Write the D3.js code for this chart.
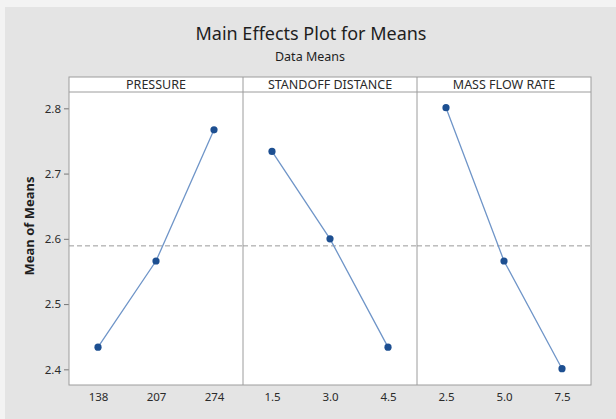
<!DOCTYPE html>
<html>
<head>
<meta charset="utf-8">
<script src="https://cdn.jsdelivr.net/npm/d3@7"></script>
<style>
  html, body { margin: 0; padding: 0; background: #f3f3f3; }
  svg { display: block; font-family: "Noto Sans", "Open Sans", sans-serif; }
</style>
</head>
<body>
<svg id="chart" width="616" height="419"></svg>
<script>
// Factor names and their levels
const factors = ["PRESSURE", "STANDOFF DISTANCE", "MASS FLOW RATE"];
const pressureLevels = ["138", "207", "274"];
const standoffLevels = ["1.5", "3.0", "4.5"];
const massFlowLevels = ["2.5", "5.0", "7.5"];

// Mean of means at each level
const pressureMeans = [2.434, 2.566, 2.767];
const standoffMeans = [2.734, 2.600, 2.434];
const massFlowMeans = [2.801, 2.566, 2.401];

// Y axis ticks
const yTicks = [2.4, 2.5, 2.6, 2.7, 2.8];

const levels = [pressureLevels, standoffLevels, massFlowLevels];
const means = [pressureMeans, standoffMeans, massFlowMeans];
const grandMean = d3.mean(means.flat());

const svg = d3.select("#chart");
const W = 616, H = 419;

const left = 69, right = 591;
const headerTop = 77, headerBottom = 92, plotBottom = 385;
const panelW = (right - left) / factors.length;

// Figure background
svg.append("rect").attr("x", 5).attr("y", 7).attr("width", W - 5).attr("height", H - 7)
  .attr("fill", "#e4e4e4");

// Titles
svg.append("text").attr("x", 311).attr("y", 40).attr("text-anchor", "middle")
  .attr("font-size", 18).attr("fill", "#1e1e1e").text("Main Effects Plot for Means");
svg.append("text").attr("x", 310).attr("y", 61).attr("text-anchor", "middle")
  .attr("font-size", 12.5).attr("fill", "#1e1e1e").text("Data Means");

const y = d3.scaleLinear().domain([2.376, 2.825]).range([plotBottom, headerBottom]);

// Plot area and header strip
svg.append("rect").attr("x", left).attr("y", headerBottom)
  .attr("width", right - left).attr("height", plotBottom - headerBottom)
  .attr("fill", "#fff");
svg.append("rect").attr("x", left).attr("y", headerTop)
  .attr("width", right - left).attr("height", headerBottom - headerTop)
  .attr("fill", "#fff");

// Y axis
const yAxis = d3.axisLeft(y).tickValues(yTicks).tickFormat(d3.format(".1f"))
  .tickSize(5).tickPadding(3);
const yg = svg.append("g").attr("transform", `translate(${left},0)`).call(yAxis);
yg.select(".domain").remove();
yg.selectAll(".tick line").attr("stroke", "#777");
yg.selectAll(".tick text").attr("font-size", 11.5).attr("fill", "#2a2a2a")
  .attr("font-family", "'Noto Sans', sans-serif");

svg.append("text")
  .attr("transform", `translate(34,226) rotate(-90)`)
  .attr("text-anchor", "middle").attr("font-size", 13).attr("font-weight", "bold")
  .attr("fill", "#1e1e1e").text("Mean of Means");

const line = d3.line();

factors.forEach((name, i) => {
  const x0 = left + i * panelW;
  const x = d3.scalePoint().domain(levels[i]).range([x0, x0 + panelW]).padding(0.5);
  const g = svg.append("g");

  // Grand mean reference line
  g.append("line").attr("x1", x0).attr("x2", x0 + panelW)
    .attr("y1", y(grandMean)).attr("y2", y(grandMean))
    .attr("stroke", "#9a9a9a").attr("stroke-width", 1).attr("stroke-dasharray", "5,3");

  // Header label
  g.append("text").attr("x", x0 + panelW / 2).attr("y", headerBottom - 3.5)
    .attr("text-anchor", "middle").attr("font-size", 12.5).attr("fill", "#2a2a2a")
    .text(name);

  // X axis tick labels
  const xAxis = d3.axisBottom(x).tickSize(0).tickPadding(8);
  const xg = g.append("g").attr("transform", `translate(0,${plotBottom})`).call(xAxis);
  xg.select(".domain").remove();
  xg.selectAll(".tick text").attr("font-size", 11.5).attr("fill", "#2a2a2a")
    .attr("font-family", "'Noto Sans', sans-serif");

  // Effect line and level points
  const pts = levels[i].map((lv, j) => [x(lv), y(means[i][j])]);
  g.append("path").attr("d", line(pts)).attr("fill", "none")
    .attr("stroke", "#6f95c8").attr("stroke-width", 1.3);
  g.selectAll("circle").data(pts).join("circle")
    .attr("cx", d => d[0]).attr("cy", d => d[1]).attr("r", 3.6)
    .attr("fill", "#1d4f91");

  // Panel divider
  if (i > 0) {
    svg.append("line").attr("x1", x0).attr("x2", x0)
      .attr("y1", headerTop).attr("y2", plotBottom)
      .attr("stroke", "#9c9c9c").attr("stroke-width", 1);
  }
});

// Frames
svg.append("rect").attr("x", left).attr("y", headerTop)
  .attr("width", right - left).attr("height", plotBottom - headerTop)
  .attr("fill", "none").attr("stroke", "#9c9c9c").attr("stroke-width", 1);
svg.append("line").attr("x1", left).attr("x2", right)
  .attr("y1", headerBottom).attr("y2", headerBottom)
  .attr("stroke", "#9c9c9c").attr("stroke-width", 1);
</script>
</body>
</html>
